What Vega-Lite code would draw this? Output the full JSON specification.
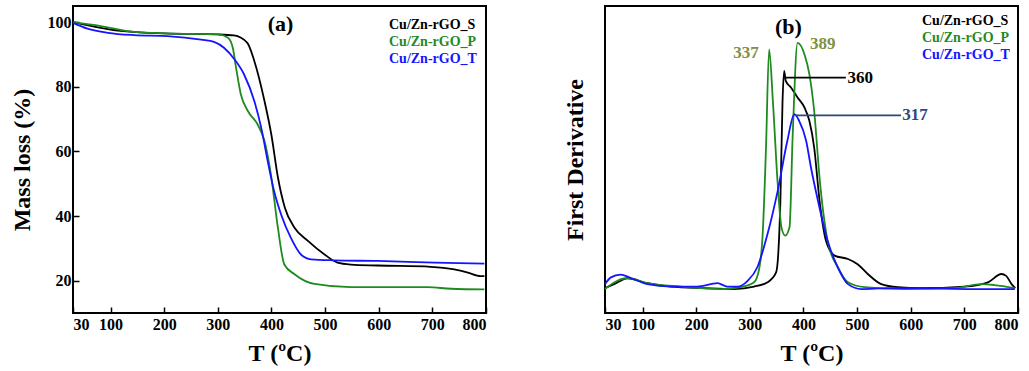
{
  "$schema": "https://vega.github.io/schema/vega-lite/v6.json",
  "background": "white",
  "padding": {"left": 9, "top": 5, "right": 5, "bottom": 5},
  "bounds": "flush",
  "spacing": 119,
  "config": {
    "view": {"stroke": "black", "strokeWidth": 2},
    "font": "Liberation Serif",
    "axis": {
      "labelFont": "Liberation Serif", "labelFontWeight": "bold", "labelFontSize": 16, "labelColor": "black",
      "titleFont": "Liberation Serif", "titleFontWeight": "bold", "titleFontSize": 24, "titleColor": "black",
      "domain": false, "grid": false, "tickColor": "black", "tickWidth": 1.5, "labelOverlap": false
    },
    "legend": {
      "labelFont": "Liberation Serif", "labelFontWeight": "bold", "labelFontSize": 14
    }
  },
  "datasets": {
    "tga": [
      {"T": 30, "mass": 100, "series": "Cu/Zn-rGO_S"},
      {"T": 100, "mass": 97.7, "series": "Cu/Zn-rGO_S"},
      {"T": 200, "mass": 96.5, "series": "Cu/Zn-rGO_S"},
      {"T": 300, "mass": 96.2, "series": "Cu/Zn-rGO_S"},
      {"T": 330, "mass": 95.9, "series": "Cu/Zn-rGO_S"},
      {"T": 355, "mass": 93.6, "series": "Cu/Zn-rGO_S"},
      {"T": 368, "mass": 88, "series": "Cu/Zn-rGO_S"},
      {"T": 387, "mass": 75.6, "series": "Cu/Zn-rGO_S"},
      {"T": 400, "mass": 65, "series": "Cu/Zn-rGO_S"},
      {"T": 412, "mass": 52, "series": "Cu/Zn-rGO_S"},
      {"T": 425, "mass": 42.6, "series": "Cu/Zn-rGO_S"},
      {"T": 443, "mass": 36.4, "series": "Cu/Zn-rGO_S"},
      {"T": 468, "mass": 32.3, "series": "Cu/Zn-rGO_S"},
      {"T": 499, "mass": 28.1, "series": "Cu/Zn-rGO_S"},
      {"T": 523, "mass": 25.6, "series": "Cu/Zn-rGO_S"},
      {"T": 548, "mass": 25, "series": "Cu/Zn-rGO_S"},
      {"T": 598, "mass": 24.7, "series": "Cu/Zn-rGO_S"},
      {"T": 697, "mass": 24.3, "series": "Cu/Zn-rGO_S"},
      {"T": 741, "mass": 23.5, "series": "Cu/Zn-rGO_S"},
      {"T": 766, "mass": 22.5, "series": "Cu/Zn-rGO_S"},
      {"T": 790, "mass": 21.4, "series": "Cu/Zn-rGO_S"},
      {"T": 797, "mass": 21.4, "series": "Cu/Zn-rGO_S"},
      {"T": 30, "mass": 100, "series": "Cu/Zn-rGO_P"},
      {"T": 82, "mass": 98.8, "series": "Cu/Zn-rGO_P"},
      {"T": 144, "mass": 97, "series": "Cu/Zn-rGO_P"},
      {"T": 206, "mass": 96.5, "series": "Cu/Zn-rGO_P"},
      {"T": 300, "mass": 96.2, "series": "Cu/Zn-rGO_P"},
      {"T": 319, "mass": 95.2, "series": "Cu/Zn-rGO_P"},
      {"T": 328, "mass": 92, "series": "Cu/Zn-rGO_P"},
      {"T": 334, "mass": 85.9, "series": "Cu/Zn-rGO_P"},
      {"T": 343, "mass": 77.6, "series": "Cu/Zn-rGO_P"},
      {"T": 356, "mass": 72.5, "series": "Cu/Zn-rGO_P"},
      {"T": 374, "mass": 68.4, "series": "Cu/Zn-rGO_P"},
      {"T": 387, "mass": 63.2, "series": "Cu/Zn-rGO_P"},
      {"T": 399, "mass": 52.9, "series": "Cu/Zn-rGO_P"},
      {"T": 412, "mass": 36.4, "series": "Cu/Zn-rGO_P"},
      {"T": 424, "mass": 25, "series": "Cu/Zn-rGO_P"},
      {"T": 443, "mass": 22, "series": "Cu/Zn-rGO_P"},
      {"T": 480, "mass": 19, "series": "Cu/Zn-rGO_P"},
      {"T": 548, "mass": 18, "series": "Cu/Zn-rGO_P"},
      {"T": 691, "mass": 18, "series": "Cu/Zn-rGO_P"},
      {"T": 735, "mass": 17.5, "series": "Cu/Zn-rGO_P"},
      {"T": 797, "mass": 17.3, "series": "Cu/Zn-rGO_P"},
      {"T": 30, "mass": 99.8, "series": "Cu/Zn-rGO_T"},
      {"T": 57, "mass": 98, "series": "Cu/Zn-rGO_T"},
      {"T": 95, "mass": 96.7, "series": "Cu/Zn-rGO_T"},
      {"T": 144, "mass": 96, "series": "Cu/Zn-rGO_T"},
      {"T": 206, "mass": 95.7, "series": "Cu/Zn-rGO_T"},
      {"T": 269, "mass": 94.6, "series": "Cu/Zn-rGO_T"},
      {"T": 293, "mass": 93.9, "series": "Cu/Zn-rGO_T"},
      {"T": 312, "mass": 92, "series": "Cu/Zn-rGO_T"},
      {"T": 331, "mass": 88.5, "series": "Cu/Zn-rGO_T"},
      {"T": 349, "mass": 83.8, "series": "Cu/Zn-rGO_T"},
      {"T": 368, "mass": 75.6, "series": "Cu/Zn-rGO_T"},
      {"T": 381, "mass": 67.3, "series": "Cu/Zn-rGO_T"},
      {"T": 393, "mass": 57, "series": "Cu/Zn-rGO_T"},
      {"T": 405, "mass": 47.7, "series": "Cu/Zn-rGO_T"},
      {"T": 418, "mass": 40.5, "series": "Cu/Zn-rGO_T"},
      {"T": 436, "mass": 33.3, "series": "Cu/Zn-rGO_T"},
      {"T": 455, "mass": 28.1, "series": "Cu/Zn-rGO_T"},
      {"T": 474, "mass": 26.6, "series": "Cu/Zn-rGO_T"},
      {"T": 517, "mass": 26.3, "series": "Cu/Zn-rGO_T"},
      {"T": 598, "mass": 26.1, "series": "Cu/Zn-rGO_T"},
      {"T": 704, "mass": 25.6, "series": "Cu/Zn-rGO_T"},
      {"T": 797, "mass": 25.3, "series": "Cu/Zn-rGO_T"}
    ],
    "dtg": [
      {"T": 30, "d": 8.1, "series": "Cu/Zn-rGO_S"},
      {"T": 47, "d": 9.4, "series": "Cu/Zn-rGO_S"},
      {"T": 72, "d": 11.3, "series": "Cu/Zn-rGO_S"},
      {"T": 109, "d": 9.7, "series": "Cu/Zn-rGO_S"},
      {"T": 153, "d": 8.6, "series": "Cu/Zn-rGO_S"},
      {"T": 215, "d": 8.1, "series": "Cu/Zn-rGO_S"},
      {"T": 271, "d": 7.8, "series": "Cu/Zn-rGO_S"},
      {"T": 308, "d": 8.6, "series": "Cu/Zn-rGO_S"},
      {"T": 333, "d": 10, "series": "Cu/Zn-rGO_S"},
      {"T": 349, "d": 13.2, "series": "Cu/Zn-rGO_S"},
      {"T": 353, "d": 19.2, "series": "Cu/Zn-rGO_S"},
      {"T": 357, "d": 36.6, "series": "Cu/Zn-rGO_S"},
      {"T": 361, "d": 69, "series": "Cu/Zn-rGO_S"},
      {"T": 364, "d": 78.9, "series": "Cu/Zn-rGO_S"},
      {"T": 367, "d": 75.6, "series": "Cu/Zn-rGO_S"},
      {"T": 377, "d": 73.4, "series": "Cu/Zn-rGO_S"},
      {"T": 389, "d": 70.2, "series": "Cu/Zn-rGO_S"},
      {"T": 402, "d": 66.9, "series": "Cu/Zn-rGO_S"},
      {"T": 411, "d": 62.6, "series": "Cu/Zn-rGO_S"},
      {"T": 420, "d": 53.9, "series": "Cu/Zn-rGO_S"},
      {"T": 430, "d": 36.6, "series": "Cu/Zn-rGO_S"},
      {"T": 442, "d": 23.5, "series": "Cu/Zn-rGO_S"},
      {"T": 458, "d": 18.7, "series": "Cu/Zn-rGO_S"},
      {"T": 483, "d": 17.6, "series": "Cu/Zn-rGO_S"},
      {"T": 501, "d": 15.9, "series": "Cu/Zn-rGO_S"},
      {"T": 520, "d": 12.7, "series": "Cu/Zn-rGO_S"},
      {"T": 545, "d": 9.4, "series": "Cu/Zn-rGO_S"},
      {"T": 576, "d": 8.4, "series": "Cu/Zn-rGO_S"},
      {"T": 619, "d": 8.1, "series": "Cu/Zn-rGO_S"},
      {"T": 700, "d": 8.6, "series": "Cu/Zn-rGO_S"},
      {"T": 744, "d": 10, "series": "Cu/Zn-rGO_S"},
      {"T": 769, "d": 12.7, "series": "Cu/Zn-rGO_S"},
      {"T": 778, "d": 12.1, "series": "Cu/Zn-rGO_S"},
      {"T": 788, "d": 9.4, "series": "Cu/Zn-rGO_S"},
      {"T": 795, "d": 8.1, "series": "Cu/Zn-rGO_S"},
      {"T": 30, "d": 7.8, "series": "Cu/Zn-rGO_P"},
      {"T": 53, "d": 10.5, "series": "Cu/Zn-rGO_P"},
      {"T": 72, "d": 11.4, "series": "Cu/Zn-rGO_P"},
      {"T": 109, "d": 9.7, "series": "Cu/Zn-rGO_P"},
      {"T": 171, "d": 8.6, "series": "Cu/Zn-rGO_P"},
      {"T": 246, "d": 7.8, "series": "Cu/Zn-rGO_P"},
      {"T": 283, "d": 8.4, "series": "Cu/Zn-rGO_P"},
      {"T": 308, "d": 10, "series": "Cu/Zn-rGO_P"},
      {"T": 318, "d": 14.9, "series": "Cu/Zn-rGO_P"},
      {"T": 324, "d": 25.7, "series": "Cu/Zn-rGO_P"},
      {"T": 330, "d": 52.8, "series": "Cu/Zn-rGO_P"},
      {"T": 336, "d": 85.9, "series": "Cu/Zn-rGO_P"},
      {"T": 343, "d": 69, "series": "Cu/Zn-rGO_P"},
      {"T": 352, "d": 42, "series": "Cu/Zn-rGO_P"},
      {"T": 359, "d": 27.9, "series": "Cu/Zn-rGO_P"},
      {"T": 366, "d": 25.2, "series": "Cu/Zn-rGO_P"},
      {"T": 374, "d": 27.9, "series": "Cu/Zn-rGO_P"},
      {"T": 380, "d": 58.2, "series": "Cu/Zn-rGO_P"},
      {"T": 389, "d": 88, "series": "Cu/Zn-rGO_P"},
      {"T": 402, "d": 84.2, "series": "Cu/Zn-rGO_P"},
      {"T": 411, "d": 77.8, "series": "Cu/Zn-rGO_P"},
      {"T": 420, "d": 65.8, "series": "Cu/Zn-rGO_P"},
      {"T": 430, "d": 44.1, "series": "Cu/Zn-rGO_P"},
      {"T": 445, "d": 23.5, "series": "Cu/Zn-rGO_P"},
      {"T": 464, "d": 14.9, "series": "Cu/Zn-rGO_P"},
      {"T": 483, "d": 10, "series": "Cu/Zn-rGO_P"},
      {"T": 514, "d": 8.4, "series": "Cu/Zn-rGO_P"},
      {"T": 588, "d": 7.8, "series": "Cu/Zn-rGO_P"},
      {"T": 682, "d": 8.1, "series": "Cu/Zn-rGO_P"},
      {"T": 731, "d": 9.4, "series": "Cu/Zn-rGO_P"},
      {"T": 756, "d": 9.1, "series": "Cu/Zn-rGO_P"},
      {"T": 794, "d": 8.1, "series": "Cu/Zn-rGO_P"},
      {"T": 30, "d": 9.4, "series": "Cu/Zn-rGO_T"},
      {"T": 41, "d": 11.6, "series": "Cu/Zn-rGO_T"},
      {"T": 59, "d": 12.5, "series": "Cu/Zn-rGO_T"},
      {"T": 78, "d": 11.4, "series": "Cu/Zn-rGO_T"},
      {"T": 109, "d": 9.4, "series": "Cu/Zn-rGO_T"},
      {"T": 153, "d": 8.6, "series": "Cu/Zn-rGO_T"},
      {"T": 202, "d": 8.6, "series": "Cu/Zn-rGO_T"},
      {"T": 240, "d": 9.7, "series": "Cu/Zn-rGO_T"},
      {"T": 258, "d": 8.6, "series": "Cu/Zn-rGO_T"},
      {"T": 277, "d": 8.6, "series": "Cu/Zn-rGO_T"},
      {"T": 296, "d": 10.5, "series": "Cu/Zn-rGO_T"},
      {"T": 314, "d": 14.9, "series": "Cu/Zn-rGO_T"},
      {"T": 333, "d": 25.7, "series": "Cu/Zn-rGO_T"},
      {"T": 352, "d": 39.8, "series": "Cu/Zn-rGO_T"},
      {"T": 370, "d": 56.1, "series": "Cu/Zn-rGO_T"},
      {"T": 383, "d": 64.8, "series": "Cu/Zn-rGO_T"},
      {"T": 392, "d": 62.6, "series": "Cu/Zn-rGO_T"},
      {"T": 405, "d": 56.1, "series": "Cu/Zn-rGO_T"},
      {"T": 414, "d": 47.4, "series": "Cu/Zn-rGO_T"},
      {"T": 427, "d": 36.6, "series": "Cu/Zn-rGO_T"},
      {"T": 445, "d": 23.5, "series": "Cu/Zn-rGO_T"},
      {"T": 464, "d": 14.9, "series": "Cu/Zn-rGO_T"},
      {"T": 483, "d": 9.4, "series": "Cu/Zn-rGO_T"},
      {"T": 508, "d": 7.8, "series": "Cu/Zn-rGO_T"},
      {"T": 557, "d": 8.1, "series": "Cu/Zn-rGO_T"},
      {"T": 619, "d": 8.1, "series": "Cu/Zn-rGO_T"},
      {"T": 713, "d": 7.8, "series": "Cu/Zn-rGO_T"},
      {"T": 794, "d": 7.8, "series": "Cu/Zn-rGO_T"}
    ]
  },
  "hconcat": [
    {
      "width": 413,
      "height": 307,
      "layer": [
        {
          "data": {"name": "tga"},
          "mark": {"type": "line", "strokeWidth": 1.8, "interpolate": "monotone"},
          "encoding": {
            "x": {"field": "T", "type": "quantitative",
                  "scale": {"domain": [30, 800], "nice": false, "zero": false},
                  "axis": {"title": "T (ºC)", "values": [30, 50, 100, 150, 200, 250, 300, 350, 400, 450, 500, 550, 600, 650, 700, 750, 800],
                           "labelExpr": "datum.value % 100 == 0 || datum.value == 30 ? datum.label : ''",
                           "tickSize": {"condition": {"test": "datum.value % 100 == 0 || datum.value == 30", "value": -6}, "value": -3},
                           "labelPadding": 9, "titlePadding": 9}},
            "y": {"field": "mass", "type": "quantitative",
                  "scale": {"domain": [10, 105], "nice": false, "zero": false},
                  "axis": {"title": "Mass loss (%)", "values": [20, 30, 40, 50, 60, 70, 80, 90, 100],
                           "labelExpr": "datum.value % 20 == 0 ? datum.label : ''",
                           "tickSize": {"condition": {"test": "datum.value % 20 == 0", "value": -6}, "value": -3},
                           "labelPadding": 8, "titlePadding": 13}},
            "color": {"field": "series", "type": "nominal",
                      "scale": {"domain": ["Cu/Zn-rGO_S", "Cu/Zn-rGO_P", "Cu/Zn-rGO_T"], "range": ["#000000", "#1f8a1f", "#1414ff"]},
                      "legend": {"title": null, "orient": "none", "legendX": 302, "legendY": 12,
                                 "symbolSize": 0, "symbolOpacity": 0, "symbolStrokeWidth": 0, "labelOffset": 0, "rowPadding": 3,
                                 "labelColor": {"expr": "datum.label == 'Cu/Zn-rGO_S' ? '#000000' : datum.label == 'Cu/Zn-rGO_P' ? '#1f8a1f' : '#1414ff'"}}}
          }
        },
        {
          "data": {"values": [{"T": 417, "y": 99.4, "label": "(a)"}]},
          "mark": {"type": "text", "font": "Liberation Serif", "fontWeight": "bold", "fontSize": 22, "align": "center", "baseline": "middle", "color": "black"},
          "encoding": {
            "x": {"field": "T", "type": "quantitative"},
            "y": {"field": "y", "type": "quantitative"},
            "text": {"field": "label"}
          }
        }
      ]
    },
    {
      "width": 413,
      "height": 307,
      "layer": [
        {
          "data": {"name": "dtg"},
          "mark": {"type": "line", "strokeWidth": 1.8, "interpolate": "monotone"},
          "encoding": {
            "x": {"field": "T", "type": "quantitative",
                  "scale": {"domain": [30, 800], "nice": false, "zero": false},
                  "axis": {"title": "T (ºC)", "values": [30, 50, 100, 150, 200, 250, 300, 350, 400, 450, 500, 550, 600, 650, 700, 750, 800],
                           "labelExpr": "datum.value % 100 == 0 || datum.value == 30 ? datum.label : ''",
                           "tickSize": {"condition": {"test": "datum.value % 100 == 0 || datum.value == 30", "value": -6}, "value": -3},
                           "labelPadding": 9, "titlePadding": 9}},
            "y": {"field": "d", "type": "quantitative",
                  "scale": {"domain": [0, 100], "nice": false, "zero": false},
                  "axis": {"title": "First Derivative", "labels": false, "ticks": false, "titlePadding": 18}},
            "color": {"field": "series", "type": "nominal",
                      "scale": {"domain": ["Cu/Zn-rGO_S", "Cu/Zn-rGO_P", "Cu/Zn-rGO_T"], "range": ["#000000", "#1f8a1f", "#1414ff"]},
                      "legend": {"title": null, "orient": "none", "legendX": 303, "legendY": 8,
                                 "symbolSize": 0, "symbolOpacity": 0, "symbolStrokeWidth": 0, "labelOffset": 0, "rowPadding": 3,
                                 "labelColor": {"expr": "datum.label == 'Cu/Zn-rGO_S' ? '#000000' : datum.label == 'Cu/Zn-rGO_P' ? '#1f8a1f' : '#1414ff'"}}}
          }
        },
        {
          "data": {"values": [{"T": 364, "T2": 479, "y": 76.7}]},
          "mark": {"type": "rule", "color": "black", "strokeWidth": 1.8},
          "encoding": {
            "x": {"field": "T", "type": "quantitative"},
            "x2": {"field": "T2"},
            "y": {"field": "y", "type": "quantitative"}
          }
        },
        {
          "data": {"values": [{"T": 383, "T2": 582, "y": 64.4}]},
          "mark": {"type": "rule", "color": "#2b4a7a", "strokeWidth": 1.8},
          "encoding": {
            "x": {"field": "T", "type": "quantitative"},
            "x2": {"field": "T2"},
            "y": {"field": "y", "type": "quantitative"}
          }
        },
        {
          "data": {"values": [{"T": 482, "y": 76.7, "label": "360"}]},
          "mark": {"type": "text", "font": "Liberation Serif", "fontWeight": "bold", "fontSize": 17, "align": "left", "baseline": "middle", "color": "black"},
          "encoding": {
            "x": {"field": "T", "type": "quantitative"},
            "y": {"field": "y", "type": "quantitative"},
            "text": {"field": "label"}
          }
        },
        {
          "data": {"values": [{"T": 584, "y": 64.4, "label": "317"}]},
          "mark": {"type": "text", "font": "Liberation Serif", "fontWeight": "bold", "fontSize": 17, "align": "left", "baseline": "middle", "color": "#2b4a7a"},
          "encoding": {
            "x": {"field": "T", "type": "quantitative"},
            "y": {"field": "y", "type": "quantitative"},
            "text": {"field": "label"}
          }
        },
        {
          "data": {"values": [{"T": 293, "y": 84.8, "label": "337"}, {"T": 436, "y": 87.7, "label": "389"}]},
          "mark": {"type": "text", "font": "Liberation Serif", "fontWeight": "bold", "fontSize": 17, "align": "center", "baseline": "middle", "color": "#7f9040"},
          "encoding": {
            "x": {"field": "T", "type": "quantitative"},
            "y": {"field": "y", "type": "quantitative"},
            "text": {"field": "label"}
          }
        },
        {
          "data": {"values": [{"T": 372, "y": 93, "label": "(b)"}]},
          "mark": {"type": "text", "font": "Liberation Serif", "fontWeight": "bold", "fontSize": 22, "align": "center", "baseline": "middle", "color": "black"},
          "encoding": {
            "x": {"field": "T", "type": "quantitative"},
            "y": {"field": "y", "type": "quantitative"},
            "text": {"field": "label"}
          }
        }
      ]
    }
  ],
  "resolve": {"scale": {"color": "independent"}, "legend": {"color": "independent"}}
}
